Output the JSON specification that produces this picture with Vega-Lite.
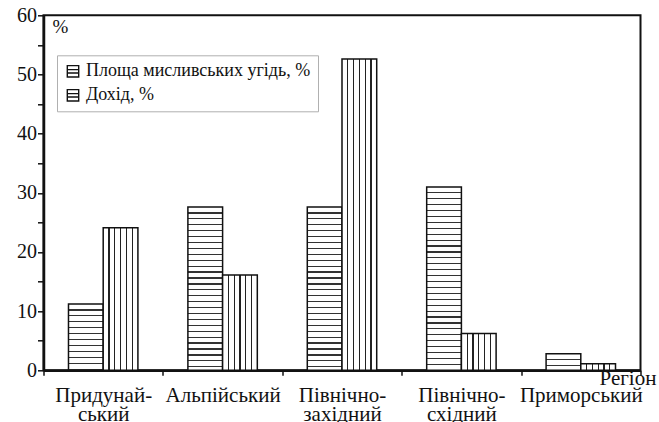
{
  "$schema": "https://vega.github.io/schema/vega-lite/v6.json",
  "autosize": {"type": "none"},
  "width": 597,
  "height": 355,
  "padding": {"left": 43.5, "top": 15.3, "right": 18.5, "bottom": 51.7},
  "background": "white",
  "config": {
    "view": {"stroke": "#111", "strokeWidth": 2},
    "font": "Liberation Serif"
  },
  "params": [
    {"name": "vgrad", "value": {"gradient": "linear", "x1": 0, "y1": 0, "x2": 1, "y2": 0, "stops": [
      {"offset": 0, "color": "#fff"},
      {"offset": 0.1493, "color": "#fff"}, {"offset": 0.1493, "color": "#222"}, {"offset": 0.1841, "color": "#222"}, {"offset": 0.1841, "color": "#fff"},
      {"offset": 0.3160, "color": "#fff"}, {"offset": 0.3160, "color": "#222"}, {"offset": 0.3507, "color": "#222"}, {"offset": 0.3507, "color": "#fff"},
      {"offset": 0.4826, "color": "#fff"}, {"offset": 0.4826, "color": "#222"}, {"offset": 0.5174, "color": "#222"}, {"offset": 0.5174, "color": "#fff"},
      {"offset": 0.6493, "color": "#fff"}, {"offset": 0.6493, "color": "#222"}, {"offset": 0.6841, "color": "#222"}, {"offset": 0.6841, "color": "#fff"},
      {"offset": 0.8160, "color": "#fff"}, {"offset": 0.8160, "color": "#222"}, {"offset": 0.8507, "color": "#222"}, {"offset": 0.8507, "color": "#fff"},
      {"offset": 1, "color": "#fff"}
    ]}},
    {"name": "hstops", "value": [
      {"offset": 0, "color": "#fff"},
      {"offset": 0.028125, "color": "#fff"}, {"offset": 0.028125, "color": "#333"}, {"offset": 0.034375, "color": "#333"}, {"offset": 0.034375, "color": "#fff"},
      {"offset": 0.059375, "color": "#fff"}, {"offset": 0.059375, "color": "#333"}, {"offset": 0.065625, "color": "#333"}, {"offset": 0.065625, "color": "#fff"},
      {"offset": 0.090625, "color": "#fff"}, {"offset": 0.090625, "color": "#333"}, {"offset": 0.096875, "color": "#333"}, {"offset": 0.096875, "color": "#fff"},
      {"offset": 0.121875, "color": "#fff"}, {"offset": 0.121875, "color": "#333"}, {"offset": 0.128125, "color": "#333"}, {"offset": 0.128125, "color": "#fff"},
      {"offset": 0.153125, "color": "#fff"}, {"offset": 0.153125, "color": "#333"}, {"offset": 0.159375, "color": "#333"}, {"offset": 0.159375, "color": "#fff"},
      {"offset": 0.184375, "color": "#fff"}, {"offset": 0.184375, "color": "#333"}, {"offset": 0.190625, "color": "#333"}, {"offset": 0.190625, "color": "#fff"},
      {"offset": 0.215625, "color": "#fff"}, {"offset": 0.215625, "color": "#333"}, {"offset": 0.221875, "color": "#333"}, {"offset": 0.221875, "color": "#fff"},
      {"offset": 0.246875, "color": "#fff"}, {"offset": 0.246875, "color": "#333"}, {"offset": 0.253125, "color": "#333"}, {"offset": 0.253125, "color": "#fff"},
      {"offset": 0.278125, "color": "#fff"}, {"offset": 0.278125, "color": "#333"}, {"offset": 0.284375, "color": "#333"}, {"offset": 0.284375, "color": "#fff"},
      {"offset": 0.309375, "color": "#fff"}, {"offset": 0.309375, "color": "#333"}, {"offset": 0.315625, "color": "#333"}, {"offset": 0.315625, "color": "#fff"},
      {"offset": 0.340625, "color": "#fff"}, {"offset": 0.340625, "color": "#333"}, {"offset": 0.346875, "color": "#333"}, {"offset": 0.346875, "color": "#fff"},
      {"offset": 0.371875, "color": "#fff"}, {"offset": 0.371875, "color": "#333"}, {"offset": 0.378125, "color": "#333"}, {"offset": 0.378125, "color": "#fff"},
      {"offset": 0.403125, "color": "#fff"}, {"offset": 0.403125, "color": "#333"}, {"offset": 0.409375, "color": "#333"}, {"offset": 0.409375, "color": "#fff"},
      {"offset": 0.434375, "color": "#fff"}, {"offset": 0.434375, "color": "#333"}, {"offset": 0.440625, "color": "#333"}, {"offset": 0.440625, "color": "#fff"},
      {"offset": 0.465625, "color": "#fff"}, {"offset": 0.465625, "color": "#333"}, {"offset": 0.471875, "color": "#333"}, {"offset": 0.471875, "color": "#fff"},
      {"offset": 0.496875, "color": "#fff"}, {"offset": 0.496875, "color": "#333"}, {"offset": 0.503125, "color": "#333"}, {"offset": 0.503125, "color": "#fff"},
      {"offset": 0.528125, "color": "#fff"}, {"offset": 0.528125, "color": "#333"}, {"offset": 0.534375, "color": "#333"}, {"offset": 0.534375, "color": "#fff"},
      {"offset": 0.559375, "color": "#fff"}, {"offset": 0.559375, "color": "#333"}, {"offset": 0.565625, "color": "#333"}, {"offset": 0.565625, "color": "#fff"},
      {"offset": 0.590625, "color": "#fff"}, {"offset": 0.590625, "color": "#333"}, {"offset": 0.596875, "color": "#333"}, {"offset": 0.596875, "color": "#fff"},
      {"offset": 0.621875, "color": "#fff"}, {"offset": 0.621875, "color": "#333"}, {"offset": 0.628125, "color": "#333"}, {"offset": 0.628125, "color": "#fff"},
      {"offset": 0.653125, "color": "#fff"}, {"offset": 0.653125, "color": "#333"}, {"offset": 0.659375, "color": "#333"}, {"offset": 0.659375, "color": "#fff"},
      {"offset": 0.684375, "color": "#fff"}, {"offset": 0.684375, "color": "#333"}, {"offset": 0.690625, "color": "#333"}, {"offset": 0.690625, "color": "#fff"},
      {"offset": 0.715625, "color": "#fff"}, {"offset": 0.715625, "color": "#333"}, {"offset": 0.721875, "color": "#333"}, {"offset": 0.721875, "color": "#fff"},
      {"offset": 0.746875, "color": "#fff"}, {"offset": 0.746875, "color": "#333"}, {"offset": 0.753125, "color": "#333"}, {"offset": 0.753125, "color": "#fff"},
      {"offset": 0.778125, "color": "#fff"}, {"offset": 0.778125, "color": "#333"}, {"offset": 0.784375, "color": "#333"}, {"offset": 0.784375, "color": "#fff"},
      {"offset": 0.809375, "color": "#fff"}, {"offset": 0.809375, "color": "#333"}, {"offset": 0.815625, "color": "#333"}, {"offset": 0.815625, "color": "#fff"},
      {"offset": 0.840625, "color": "#fff"}, {"offset": 0.840625, "color": "#333"}, {"offset": 0.846875, "color": "#333"}, {"offset": 0.846875, "color": "#fff"},
      {"offset": 0.871875, "color": "#fff"}, {"offset": 0.871875, "color": "#333"}, {"offset": 0.878125, "color": "#333"}, {"offset": 0.878125, "color": "#fff"},
      {"offset": 0.903125, "color": "#fff"}, {"offset": 0.903125, "color": "#333"}, {"offset": 0.909375, "color": "#333"}, {"offset": 0.909375, "color": "#fff"},
      {"offset": 0.934375, "color": "#fff"}, {"offset": 0.934375, "color": "#333"}, {"offset": 0.940625, "color": "#333"}, {"offset": 0.940625, "color": "#fff"},
      {"offset": 0.965625, "color": "#fff"}, {"offset": 0.965625, "color": "#333"}, {"offset": 0.971875, "color": "#333"}, {"offset": 0.971875, "color": "#fff"},
      {"offset": 1, "color": "#fff"}
    ]}
  ],
  "data": {"values": [
    {"region": "Придунайський", "series": "Площа мисливських угідь, %", "value": 11.2},
    {"region": "Придунайський", "series": "Дохід, %", "value": 24.1},
    {"region": "Альпійський", "series": "Площа мисливських угідь, %", "value": 27.6},
    {"region": "Альпійський", "series": "Дохід, %", "value": 16.1},
    {"region": "Північно-західний", "series": "Площа мисливських угідь, %", "value": 27.6},
    {"region": "Північно-західний", "series": "Дохід, %", "value": 52.6},
    {"region": "Північно-східний", "series": "Площа мисливських угідь, %", "value": 31.0},
    {"region": "Північно-східний", "series": "Дохід, %", "value": 6.2},
    {"region": "Приморський", "series": "Площа мисливських угідь, %", "value": 2.8},
    {"region": "Приморський", "series": "Дохід, %", "value": 1.1}
  ]},
  "mark": {"type": "bar", "strokeWidth": 1.5},
  "encoding": {
    "x": {
      "field": "region", "type": "nominal", "sort": null,
      "scale": {"paddingInner": 0, "paddingOuter": 0},
      "axis": {
        "title": "Регіон", "titleX": 555.5, "titleY": 14, "titleAlign": "left", "titleBaseline": "alphabetic",
        "titleFont": "Liberation Serif", "titleFontSize": 21, "titleFontWeight": "normal", "titleColor": "#111",
        "labelAngle": 0, "labelFont": "Liberation Serif", "labelFontSize": 21, "labelColor": "#111",
        "labelLineHeight": 19.5, "labelPadding": 9, "labelBaseline": "top", "labelOverlap": false, "labelLimit": 300,
        "labelExpr": "datum.label == 'Придунайський' ? ['Придунай-', 'ський'] : datum.label == 'Північно-західний' ? ['Північно-', 'західний'] : datum.label == 'Північно-східний' ? ['Північно-', 'східний'] : datum.label",
        "tickBand": "extent", "tickSize": 5, "tickWidth": 1.5, "tickColor": "#111",
        "domainColor": "#111", "domainWidth": 2.5, "grid": false
      }
    },
    "xOffset": {
      "field": "series", "type": "nominal",
      "sort": ["Площа мисливських угідь, %", "Дохід, %"],
      "scale": {"paddingInner": 0, "paddingOuter": 0.72}
    },
    "y": {
      "field": "value", "type": "quantitative",
      "scale": {"domain": [0, 60], "nice": false},
      "axis": {
        "orient": "left",
        "values": [0, 5, 10, 15, 20, 25, 30, 35, 40, 45, 50, 55, 60],
        "labelExpr": "datum.value % 10 === 0 ? datum.label : ''",
        "labelFont": "Liberation Serif", "labelFontSize": 20, "labelColor": "#111", "labelPadding": 1,
        "tickSize": 6,
        "tickWidth": 1.5, "tickColor": "#111",
        "domainColor": "#111", "domainWidth": 2.5, "grid": false,
        "encode": {"ticks": {
          "x": {"value": {"expr": "datum.value % 10 === 0 ? 6 : 4"}},
          "x2": {"value": {"expr": "datum.value % 10 === 0 ? -6 : -4"}}
        }},
        "title": "%", "titleAngle": 0, "titleX": 16.5, "titleY": 11, "titleAlign": "center", "titleBaseline": "middle",
        "titleFont": "Liberation Serif", "titleFontSize": 19, "titleFontWeight": "normal", "titleColor": "#111"
      }
    },
    "fill": {"value": {"expr": "datum.series === 'Дохід, %' ? vgrad : {gradient: 'linear', x1: 1, y1: 0, x2: 1, y2: 32 / datum.value, stops: hstops}"}},
    "stroke": {
      "field": "series", "type": "nominal",
      "scale": {"domain": ["Площа мисливських угідь, %", "Дохід, %"], "range": ["#111", "#111"]},
      "legend": {
        "orient": "none", "legendX": 13.5, "legendY": 40, "title": null,
        "fillColor": "white", "strokeColor": "#b0b0b0", "padding": 7,
        "labelFont": "Liberation Serif", "labelFontSize": 18, "labelColor": "#111", "labelLimit": 400,
        "symbolType": "M-1,-1H1V1H-1Z M-1,-0.3H1 M-1,0.3H1",
        "symbolSize": 130, "symbolStrokeWidth": 1.4, "symbolFillColor": "white", "symbolStrokeColor": "#111",
        "labelOffset": 4, "rowPadding": 6
      }
    }
  }
}
